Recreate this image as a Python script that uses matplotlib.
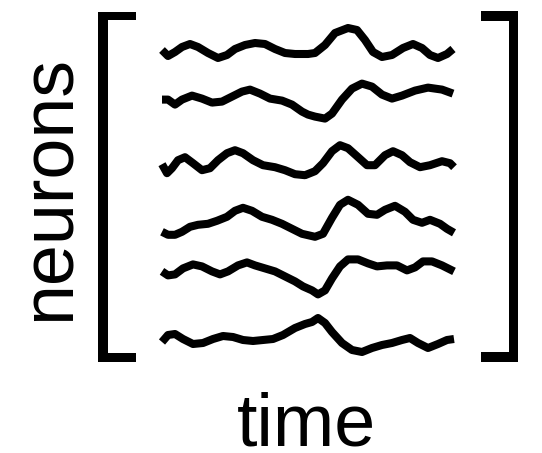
import numpy as np
import matplotlib.pyplot as plt

# time samples (a.u.) and activity (a.u.) for each neuron
t1 = [0, 6, 13, 20, 28, 36, 46, 56, 65, 73, 83, 93, 103, 113, 123, 133, 146, 153, 163, 173, 186, 195, 203, 211, 220, 230, 241, 251, 260, 268, 276, 285, 291]
a1 = [-2, -8, -4, 1, 4, 1, -5, -10, -7, -1, 3, 5, 4, -1, -5, -6, -6, -5, 3, 15, 20, 18, 8, -4, -9, -7, 0, 4, 0, -7, -10, -6, -1]

t2 = [0, 6, 13, 20, 30, 40, 50, 60, 70, 80, 88, 98, 108, 120, 130, 140, 146, 153, 163, 170, 180, 190, 200, 210, 220, 230, 240, 253, 266, 280, 291]
a2 = [6, 6, 1, 6, 10, 7, 3, 4, 9, 14, 16, 12, 7, 5, 1, -6, -9, -11, -13, -8, 6, 17, 22, 19, 11, 7, 10, 15, 18, 16, 12]

t3 = [0, 5, 10, 16, 23, 31, 40, 48, 56, 65, 73, 81, 91, 101, 113, 123, 133, 143, 153, 161, 170, 178, 186, 195, 205, 213, 223, 231, 240, 248, 258, 268, 280, 288, 292]
a3 = [-1, -10, -5, 3, 6, 0, -7, -5, 3, 10, 13, 10, 3, -2, -4, -7, -11, -12, -8, 0, 12, 18, 15, 7, -2, -2, 8, 12, 8, 1, -4, -2, 2, 0, -4]

t4 = [0, 6, 13, 20, 28, 36, 46, 55, 65, 73, 81, 90, 100, 110, 120, 130, 140, 153, 161, 170, 178, 186, 196, 206, 215, 223, 233, 243, 251, 260, 268, 278, 285, 292]
a4 = [-11, -14, -14, -11, -6, -4, -3, 0, 4, 10, 13, 10, 4, 1, -3, -8, -13, -16, -13, 3, 16, 21, 16, 7, 6, 11, 15, 9, 1, -2, 1, -3, -8, -12]

t5 = [0, 6, 13, 21, 31, 40, 50, 58, 66, 76, 85, 93, 103, 113, 123, 133, 141, 150, 156, 163, 170, 178, 186, 196, 206, 215, 225, 235, 245, 253, 261, 270, 280, 290, 292]
a5 = [7, 3, 4, 10, 14, 12, 7, 4, 7, 13, 16, 13, 10, 7, 2, -3, -8, -12, -16, -12, 0, 12, 19, 19, 15, 12, 13, 13, 8, 11, 17, 17, 13, 8, 7]

t6 = [0, 6, 13, 21, 31, 41, 51, 61, 71, 81, 91, 101, 111, 121, 133, 143, 150, 156, 163, 170, 180, 190, 200, 210, 220, 230, 240, 248, 256, 266, 276, 285, 292]
a6 = [-6, 1, 2, -3, -8, -7, -3, 0, -1, -4, -5, -4, -3, 1, 8, 12, 14, 18, 13, 4, -7, -14, -16, -12, -9, -7, -4, -2, -7, -12, -8, -4, -3]

times = [t1, t2, t3, t4, t5, t6]
acts = [a1, a2, a3, a4, a5, a6]

W, H = 542, 453
fig = plt.figure(figsize=(W / 100, H / 100), dpi=100)
fig.patch.set_facecolor('white')

# overlay in pixel units for brackets and labels
deco = fig.add_axes([0, 0, 1, 1])
deco.set_xlim(0, W)
deco.set_ylim(H, 0)
deco.axis('off')

# left bracket
deco.fill([98, 136, 136, 108, 108, 136, 136, 98],
          [12, 12, 20, 20, 353, 353, 362, 362], color='black', lw=0)
# right bracket
deco.fill([518, 481, 481, 509, 509, 481, 481, 518],
          [11, 11, 21, 21, 352, 352, 362, 362], color='black', lw=0)

font = 'Liberation Sans'
deco.text(70, 188, 'neurons', rotation=90, rotation_mode='anchor',
          ha='center', va='baseline', fontsize=53, family=font)
deco.text(307, 445, 'time', ha='center', va='baseline', fontsize=53, family=font)

# traces
ax = fig.add_axes([162 / W, (H - 360) / H, 293 / W, 340 / H])
ax.set_xlim(0, 293)
ax.set_ylim(0, 340)
ax.axis('off')

spacing = 57.6
top = 312
for i, (t, a) in enumerate(zip(times, acts)):
    y = top - spacing * i + np.array(a)
    ax.plot(t, y, color='black', lw=5.8, solid_joinstyle='round',
            solid_capstyle='butt', clip_on=False)

fig.savefig('out.png', dpi=100, facecolor='white')
